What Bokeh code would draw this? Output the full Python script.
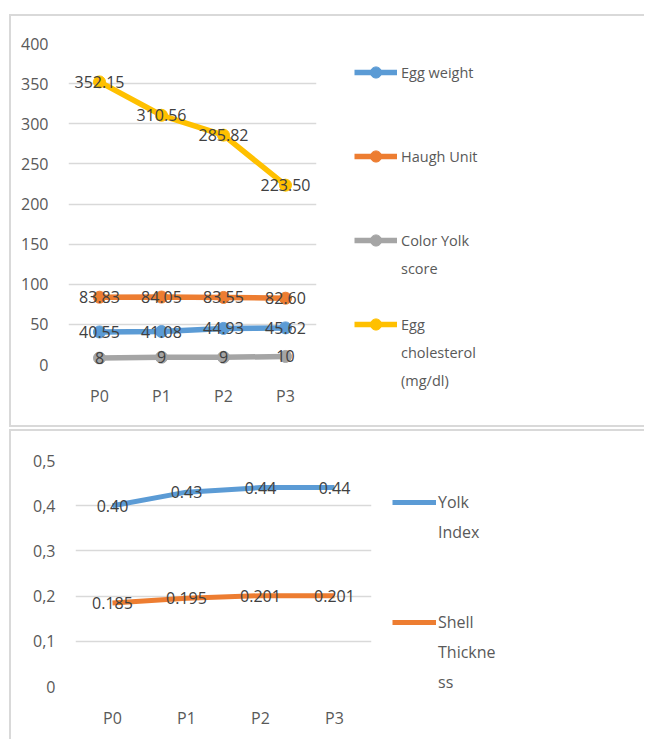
from bokeh.plotting import figure
from bokeh.models import Legend, LegendItem, FactorRange, Range1d, FixedTicker, ColumnDataSource
from bokeh.layouts import column, row
from bokeh.embed import file_html
from bokeh.resources import INLINE
from bokeh.core.properties import value

# ---------------- data ----------------
categories = ["P0", "P1", "P2", "P3"]

egg_weight = [40.55, 41.08, 44.93, 45.62]
haugh_unit = [83.83, 84.05, 83.55, 82.60]
color_yolk = [8, 9, 9, 10]
egg_cholesterol = [352.15, 310.56, 285.82, 223.50]
top_series_names = ["Egg weight", "Haugh Unit", "Color Yolk\nscore", "Egg\ncholesterol\n(mg/dl)"]
top_ticks = [0, 50, 100, 150, 200, 250, 300, 350, 400]

yolk_index = [0.40, 0.43, 0.44, 0.44]
shell_thickness = [0.185, 0.195, 0.201, 0.201]
bottom_series_names = ["Yolk\nIndex", "Shell\nThickne\nss"]
bottom_ticks = [0, 0.1, 0.2, 0.3, 0.4, 0.5]
bottom_tick_labels = ["0", "0,1", "0,2", "0,3", "0,4", "0,5"]

# ---------------- style ----------------
FONT = "Open Sans"
TICK_COLOR = "#595959"
LABEL_COLOR = "#404040"
GRID = "#d9d9d9"
COLORS = ["#5B9BD5", "#ED7D31", "#A5A5A5", "#FFC000"]
FILL = "\u00a0"
OFF = [-2, -1]  # legend-proxy glyphs live outside the visible range


def box_lines(lines):
    """CSS background lines (x, y, w, h) used as the chart-area border."""
    g = "linear-gradient(#d9d9d9,#d9d9d9)"
    return {"background": ", ".join(f"{g} {x}px {y}px / {w}px {h}px no-repeat" for x, y, w, h in lines)}


def clear_fills(p):
    p.outline_line_color = None
    p.background_fill_color = None
    p.border_fill_color = None


def style_axes(p, ticks, tick_overrides=None):
    clear_fills(p)
    p.xgrid.visible = False
    p.ygrid.grid_line_color = GRID
    p.ygrid.grid_line_width = 1.5
    p.yaxis.ticker = FixedTicker(ticks=ticks)
    if tick_overrides:
        p.yaxis.major_label_overrides = tick_overrides
    for ax in (p.xaxis[0], p.yaxis[0]):
        ax.axis_line_color = None
        ax.major_tick_line_color = None
        ax.minor_tick_line_color = None
        ax.major_label_text_font = FONT
        ax.major_label_text_font_size = "16px"
        ax.major_label_text_color = TICK_COLOR
    p.yaxis.major_label_standoff = 14
    p.xaxis.major_label_standoff = 14


def legend_figure(width, height, styles, names, glyph_specs, slots, loc, glyph_w, item_h, standoff, font_size):
    f = figure(width=width, height=height, x_range=Range1d(0, 1), y_range=Range1d(0, 1),
               x_axis_location=None, y_axis_location=None, min_border=0, frame_align=False,
               output_backend="svg", toolbar_location=None, styles=styles)
    clear_fills(f)
    f.grid.visible = False
    dummy = f.line(x=OFF, y=OFF, line_alpha=0)
    groups = []
    for col, with_marker, lw in glyph_specs:
        rs = [f.line(x=OFF, y=OFF, line_color=col, line_width=lw)]
        if with_marker:
            rs.append(f.scatter(x=OFF, y=OFF, size=12, fill_color=col, line_color=col))
        groups.append(rs)
    rows = {}
    for name, rs, slot in zip(names, groups, slots):
        for j, line in enumerate(name.split("\n")):
            rows[slot + j] = (line, rs if j == 0 else [dummy])
    items = []
    for k in range(max(rows) + 1):
        label, rs = rows.get(k, (FILL, [dummy]))
        items.append(LegendItem(label=label, renderers=rs))
    leg = Legend(items=items, location=loc, padding=0, margin=0, spacing=0,
                 border_line_color=None, background_fill_alpha=0,
                 glyph_width=glyph_w, glyph_height=item_h, label_height=item_h,
                 label_standoff=standoff,
                 label_text_font=FONT, label_text_font_size=font_size,
                 label_text_color=TICK_COLOR)
    f.add_layout(leg, "center")
    return f


# ---------------- top chart ----------------
p1 = figure(x_range=FactorRange(*categories), y_range=Range1d(0, 400),
            width=340, height=428, frame_align=False,
            min_border_left=68, min_border_right=24, min_border_top=43, min_border_bottom=64,
            output_backend="svg", toolbar_location=None,
            styles=box_lines([(9, 14, 2, 413), (9, 14, 700, 2), (9, 425, 700, 2)]))
style_axes(p1, top_ticks)

top_values = [egg_weight, haugh_unit, color_yolk, egg_cholesterol]
top_fmt = ["{:.2f}", "{:.2f}", "{:.0f}", "{:.2f}"]
for vals, col in zip(top_values, COLORS):
    p1.line(categories, vals, line_color=col, line_width=5.5)
    p1.scatter(categories, vals, size=12, fill_color=col, line_color=col)
for vals, fmt in zip(top_values, top_fmt):
    src = ColumnDataSource(dict(x=categories, y=vals, t=[fmt.format(v) for v in vals]))
    p1.text(x="x", y="y", text="t", source=src, text_align="center", text_baseline="middle",
            text_font=value(FONT), text_font_size="16px", text_color=LABEL_COLOR)

lf1 = legend_figure(304, 428, box_lines([(0, 14, 700, 2), (0, 425, 700, 2)]),
                    top_series_names, [(c, True, 5.5) for c in COLORS], [0, 3, 6, 9],
                    (14, 34), 43, 28, 4, "14.5px")

# ---------------- bottom chart ----------------
p2 = figure(x_range=FactorRange(*categories), y_range=Range1d(0, 0.5),
            width=380, height=311, frame_align=False,
            min_border_left=75, min_border_right=9, min_border_top=32, min_border_bottom=53,
            output_backend="svg", toolbar_location=None,
            styles=box_lines([(9, 1, 2, 400), (9, 1, 700, 2)]))
style_axes(p2, bottom_ticks, {t: l for t, l in zip(bottom_ticks, bottom_tick_labels)})

bottom_values = [yolk_index, shell_thickness]
bottom_fmt = ["{:.2f}", "{:.3f}"]
for vals, col in zip(bottom_values, COLORS[:2]):
    p2.line(categories, vals, line_color=col, line_width=5)
for vals, fmt in zip(bottom_values, bottom_fmt):
    src = ColumnDataSource(dict(x=categories, y=vals, t=[fmt.format(v) for v in vals]))
    p2.text(x="x", y="y", text="t", source=src, text_align="center", text_baseline="middle",
            text_font=value(FONT), text_font_size="16px", text_color=LABEL_COLOR)

lf2 = legend_figure(264, 311, box_lines([(0, 1, 700, 2)]),
                    bottom_series_names, [(c, False, 5) for c in COLORS[:2]], [0, 4],
                    (12, 42), 44, 30, 2, "16px")

layout = column(row(p1, lf1, spacing=0), row(p2, lf2, spacing=0), spacing=0)
open("out.html", "w").write(file_html(layout, INLINE))
